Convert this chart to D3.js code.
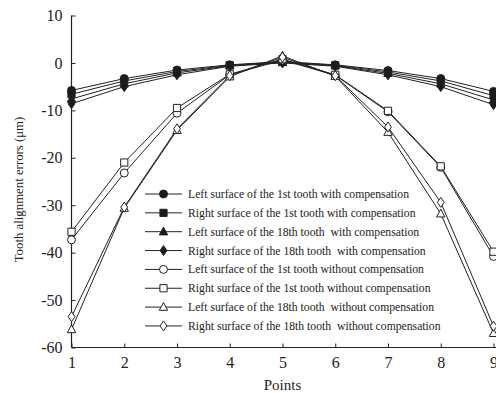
<!DOCTYPE html>
<html>
<head>
<meta charset="utf-8">
<script src="https://cdn.jsdelivr.net/npm/d3@7"></script>
<style>
  html, body { margin: 0; padding: 0; background: #fff; }
  svg { display: block; }
  svg text { font-family: "Liberation Serif", "Times New Roman", serif; }
</style>
</head>
<body>
<svg id="chart" width="496" height="393"></svg>
<script>
// Measurement points along the tooth
const points = [1, 2, 3, 4, 5, 6, 7, 8, 9];
const yTicks = [10, 0, -10, -20, -30, -40, -50, -60];

// Tooth alignment errors (μm), with compensation
const left1stWith   = [-5.8, -3.3, -1.5, -0.4, 0.3, -0.4, -1.6, -3.3, -6.0];
const right1stWith  = [-6.6, -3.8, -1.8, -0.5, 0.2, -0.5, -1.9, -3.8, -6.9];
const left18thWith  = [-7.6, -4.4, -2.1, -0.6, 0.1, -0.6, -2.2, -4.4, -7.8];
const right18thWith = [-8.6, -5.0, -2.5, -0.7, 0.0, -0.7, -2.5, -5.0, -8.8];

// Tooth alignment errors (μm), without compensation
const left1stWithout   = [-37.3, -23.2, -10.6, -2.5, 0.6, -2.6, -10.3, -22.0, -40.8];
const right1stWithout  = [-35.6, -21.0, -9.5, -2.4, 0.8, -2.5, -10.1, -21.8, -39.8];
const left18thWithout  = [-56.2, -30.6, -14.2, -2.9, 1.5, -2.8, -14.6, -31.8, -57.0];
const right18thWithout = [-53.5, -30.4, -13.9, -2.7, 1.2, -2.7, -13.5, -29.4, -55.5];

const seriesNames = [
  "Left surface of the 1st tooth with compensation",
  "Right surface of the 1st tooth with compensation",
  "Left surface of the 18th tooth  with compensation",
  "Right surface of the 18th tooth  with compensation",
  "Left surface of the 1st tooth without compensation",
  "Right surface of the 1st tooth without compensation",
  "Left surface of the 18th tooth  without compensation",
  "Right surface of the 18th tooth  without compensation"
];

const series = [
  { name: seriesNames[0], values: left1stWith,      shape: "circle",   filled: true },
  { name: seriesNames[1], values: right1stWith,     shape: "square",   filled: true },
  { name: seriesNames[2], values: left18thWith,     shape: "triangle", filled: true },
  { name: seriesNames[3], values: right18thWith,    shape: "diamond",  filled: true },
  { name: seriesNames[4], values: left1stWithout,   shape: "circle",   filled: false },
  { name: seriesNames[5], values: right1stWithout,  shape: "square",   filled: false },
  { name: seriesNames[6], values: left18thWithout,  shape: "triangle", filled: false },
  { name: seriesNames[7], values: right18thWithout, shape: "diamond",  filled: false }
];

const FONT = '"Liberation Serif", "Times New Roman", serif';
const svg = d3.select("#chart");
const x = d3.scaleLinear().domain([1, 9]).range([71.5, 493.5]);
const y = d3.scaleLinear().domain([-60, 10]).range([347.5, 15.5]);

// Marker path generator
function markerPath(shape, r) {
  switch (shape) {
    case "circle":
      return d3.symbol(d3.symbolCircle, Math.PI * r * r)();
    case "square":
      return `M${-r},${-r}H${r}V${r}H${-r}Z`;
    case "triangle":
      return `M0,${-r * 1.15}L${r * 1.05},${r * 0.8}L${-r * 1.05},${r * 0.8}Z`;
    case "diamond":
      return `M0,${-r * 1.25}L${r * 0.85},0L0,${r * 1.25}L${-r * 0.85},0Z`;
  }
}
const markerSize = { circle: 4.0, square: 3.6, triangle: 4.0, diamond: 4.0 };

// Axes (plain hyphen for negative tick labels)
const fmt = d => String(d);
const xAxis = d3.axisBottom(x).tickValues(points).tickFormat(fmt)
  .tickSizeInner(-4).tickSizeOuter(0).tickPadding(9);
const yAxis = d3.axisLeft(y).tickValues(yTicks).tickFormat(fmt)
  .tickSizeInner(-4).tickSizeOuter(0).tickPadding(9);

const gx = svg.append("g").attr("transform", `translate(0,${y(-60)})`).call(xAxis);
const gy = svg.append("g").attr("transform", `translate(${x(1)},0)`).call(yAxis);
[gx, gy].forEach(g => {
  g.attr("font-family", FONT).attr("font-size", 16);
  g.select(".domain").attr("stroke", "#222").attr("stroke-width", 1.2);
  g.selectAll(".tick line").attr("stroke", "#222");
  g.selectAll(".tick text").attr("fill", "#222");
});
gx.select(".domain").attr("d", `M${x(1)},0H496`);
gy.select(".domain").attr("d", `M0,${y(-60)}V${y(10)}`);

// Axis titles
svg.append("text").attr("x", x(5)).attr("y", 390).attr("text-anchor", "middle")
  .attr("fill", "#222").attr("font-size", 15).text("Points");
svg.append("text").attr("transform", `translate(23,${(y(10) + y(-60)) / 2 + 8}) rotate(-90)`)
  .attr("text-anchor", "middle").attr("fill", "#222").attr("font-size", 12.8)
  .text("Tooth alignment errors (μm)");

// Lines and markers
const line = d3.line().x((d, i) => x(points[i])).y(d => y(d));
const plot = svg.append("g");
series.forEach(s => {
  plot.append("path").attr("d", line(s.values)).attr("fill", "none")
    .attr("stroke", "#222").attr("stroke-width", 1);
});
series.forEach(s => {
  plot.selectAll(null).data(s.values).enter().append("path")
    .attr("transform", (d, i) => `translate(${x(points[i])},${y(d)})`)
    .attr("d", markerPath(s.shape, markerSize[s.shape]))
    .attr("fill", s.filled ? "#1a1a1a" : "#fff")
    .attr("stroke", "#222").attr("stroke-width", 1);
});

// Legend
const legend = svg.append("g").attr("transform", "translate(145,194)");
series.forEach((s, i) => {
  const g = legend.append("g").attr("transform", `translate(0,${i * 18.85})`);
  g.append("line").attr("x1", 0).attr("x2", 37).attr("y1", 0).attr("y2", 0)
    .attr("stroke", "#222").attr("stroke-width", 1);
  g.append("path").attr("transform", "translate(18.5,0)")
    .attr("d", markerPath(s.shape, markerSize[s.shape]))
    .attr("fill", s.filled ? "#1a1a1a" : "#fff")
    .attr("stroke", "#222").attr("stroke-width", 1);
  g.append("text").attr("x", 43).attr("y", 4).attr("fill", "#222")
    .attr("font-size", 11.7).style("white-space", "pre").text(s.name);
});
</script>
</body>
</html>
